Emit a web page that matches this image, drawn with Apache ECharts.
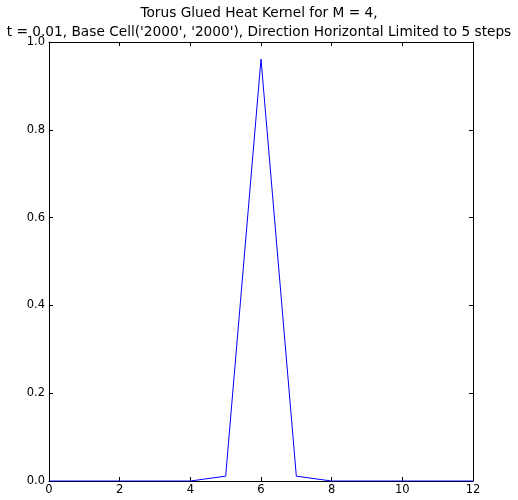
<!DOCTYPE html>
<html><head><meta charset="utf-8">
<script src="https://cdn.jsdelivr.net/npm/echarts@6/dist/echarts.min.js"></script>
<style>html,body{margin:0;padding:0;background:#fff}#c{width:518px;height:500px}</style>
</head><body><div id="c"></div>
<script>
const titleLines = ["Torus Glued Heat Kernel for M = 4,", "t = 0.01, Base Cell('2000', '2000'), Direction Horizontal Limited to 5 steps"];
const xValues = [0, 1, 2, 3, 4, 5, 6, 7, 8, 9, 10, 11, 12];
const yValues = [0, 0, 0, 0, 0, 0.011, 0.961, 0.011, 0, 0, 0, 0, 0];
const xTicks = {min: 0, max: 12, interval: 2};
const yTicks = {min: 0, max: 1, interval: 0.2};

const font = "DejaVu Sans";
const chart = echarts.init(document.getElementById('c'), null, {renderer: 'canvas'});
const axLine = {show: true, onZero: false, lineStyle: {color: '#000', width: 1}};
const tick = {show: true, inside: true, length: 4, lineStyle: {color: '#000', width: 1}};
chart.setOption({
  animation: false,
  backgroundColor: '#fff',
  title: {
    text: titleLines.join('\n'),
    left: 'center', top: -1, padding: [5, 0, 5, 4],
    textStyle: {fontFamily: font, fontSize: 13.7, fontWeight: 'normal', color: '#000', lineHeight: 19}
  },
  grid: {left: 49, right: 45, top: 42, bottom: 19, containLabel: false},
  xAxis: [
    {type: 'value', min: xTicks.min, max: xTicks.max, interval: xTicks.interval, position: 'bottom',
     axisLine: axLine, axisTick: tick, splitLine: {show: false},
     axisLabel: {fontFamily: font, fontSize: 11.5, color: '#000', margin: 3}},
    {type: 'value', min: xTicks.min, max: xTicks.max, interval: xTicks.interval, position: 'top',
     axisLine: axLine, axisTick: tick, splitLine: {show: false}, axisLabel: {show: false}}
  ],
  yAxis: [
    {type: 'value', min: yTicks.min, max: yTicks.max, interval: yTicks.interval, position: 'left',
     axisLine: axLine, axisTick: tick, splitLine: {show: false},
     axisLabel: {fontFamily: font, fontSize: 11.5, color: '#000', margin: 4, formatter: v => v.toFixed(1)}},
    {type: 'value', min: yTicks.min, max: yTicks.max, interval: yTicks.interval, position: 'right',
     axisLine: axLine, axisTick: tick, splitLine: {show: false}, axisLabel: {show: false}}
  ],
  series: [{
    type: 'line', xAxisIndex: 0, yAxisIndex: 0,
    data: xValues.map((x, i) => [x, yValues[i]]),
    showSymbol: false, symbol: 'none',
    lineStyle: {color: '#0000ff', width: 1}
  }]
});
</script></body></html>
